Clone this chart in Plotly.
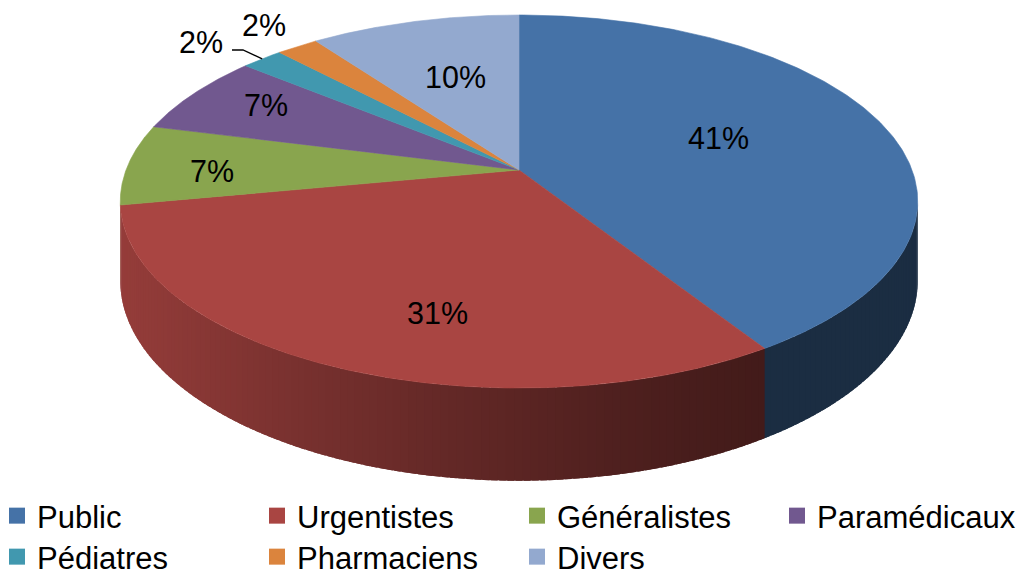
import numpy as np
import plotly.graph_objects as go

# ---------------- data ----------------
categories = ["Public", "Urgentistes", "Généralistes", "Paramédicaux",
              "Pédiatres", "Pharmaciens", "Divers"]
shares = [41, 31, 7, 7, 2, 2, 10]
colors = ["#4572A7", "#A94542", "#89A54E", "#71588F",
          "#4198AF", "#DB843D", "#93A9CF"]

# ---------------- geometry of the perspective pie ----------------
W, H = 1026, 574
CX, CY = 519, 170          # projected pie centre
A, B, K = 393, 181.2, -0.169   # horizontal / vertical radius, perspective
DEPTH = 77                 # thickness of the pie
FONT = "Arial, Liberation Sans, sans-serif"


def proj(theta_deg, r=1.0):
    t = np.radians(theta_deg)
    u = r * np.sin(t)
    v = -r * np.cos(t)
    w = 1 + K * v
    return CX + A * u / w, CY + B * v / w, w


def hex2rgb(h):
    h = h.lstrip("#")
    return [int(h[i:i + 2], 16) for i in (0, 2, 4)]


def shade(hexcol, f):
    r, g, b = hex2rgb(hexcol)
    return "rgb(%d,%d,%d)" % (r * f, g * f, b * f)


def side_factor(x):
    t = np.clip((x - 125) / 640.0, 0, 1)
    return 0.4 + 0.48 * (1 - t) ** 1.3


total = float(sum(shares))
bounds = np.concatenate([[0], np.cumsum(shares)]) / total * 360.0

# visible part of the side wall (between the two silhouette points)
vis_a = np.degrees(np.arccos(K))        # ~99.7
vis_b = 360 - vis_a

fig = go.Figure()

# ---- side walls (overlapping strips for a shading gradient) ----
for i, c in enumerate(colors):
    a0, a1 = max(bounds[i], vis_a), min(bounds[i + 1], vis_b)
    if a1 <= a0:
        continue
    edges = np.append(np.arange(a0, a1, 1.0), a1)
    for s in range(len(edges) - 1):
        hi = min(edges[s + 1] + 0.8, vis_b)
        th = np.linspace(edges[s], hi, 5)
        xt, yt, wt = proj(th)
        yb = yt + DEPTH / wt
        xs = np.concatenate([xt, xt[::-1]])
        ys = np.concatenate([yt, yb[::-1]])
        col = shade(c, side_factor(proj((edges[s] + edges[s + 1]) / 2)[0]))
        fig.add_trace(go.Scatter(x=xs, y=ys, mode="lines", fill="toself",
                                 fillcolor=col, line=dict(width=0),
                                 hoverinfo="skip", showlegend=False))

# ---- top faces ----
for i, c in enumerate(colors):
    th = np.linspace(bounds[i], bounds[i + 1], 200)
    xt, yt, _ = proj(th)
    xs = np.concatenate([[CX], xt, [CX]])
    ys = np.concatenate([[CY], yt, [CY]])
    fig.add_trace(go.Scatter(x=xs, y=ys, mode="lines", fill="toself",
                             fillcolor=c, line=dict(color=c, width=0.6),
                             hoverinfo="text", text=f"{categories[i]}: {shares[i]}%",
                             showlegend=False))

# ---- data labels ----
label_pos = [(718, 138), (437, 313), (212, 171), (266, 105),
             (201, 42), (264, 25), (455, 77)]
for i, (lx, ly) in enumerate(label_pos):
    fig.add_annotation(x=lx, y=ly, text=f"{shares[i]}%", showarrow=False,
                       font=dict(family=FONT, size=30.5, color="black"),
                       xanchor="center", yanchor="middle")

# leader line for the small "Pédiatres" slice
i_ped = categories.index("Pédiatres")
ex, ey, _ = proj((bounds[i_ped] + bounds[i_ped + 1]) / 2)
fig.add_trace(go.Scatter(x=[232, 243, ex], y=[50, 50, ey], mode="lines",
                         line=dict(color="black", width=1.3),
                         hoverinfo="skip", showlegend=False))

# ---- legend: 4 columns x 2 rows, one legend box per entry ----
legend_names = ["legend"] + [f"legend{j}" for j in range(2, len(categories) + 1)]
for j, (cat, c) in enumerate(zip(categories, colors)):
    fig.add_trace(go.Scatter(x=[None], y=[None], mode="markers", name=cat,
                             legend=legend_names[j],
                             marker=dict(symbol="square", size=17, color=c,
                                         line=dict(width=0))))

ROW_TOPS = [489, 530]
COL_STEP = 260
legend_common = dict(orientation="v", xanchor="left", yanchor="top",
                     font=dict(family=FONT, size=31, color="black"),
                     bgcolor="rgba(0,0,0,0)", borderwidth=0,
                     tracegroupgap=0, itemclick=False, itemdoubleclick=False)
layout_leg = {}
for j, name in enumerate(legend_names):
    row, col = divmod(j, 4)
    layout_leg[name] = dict(legend_common,
                            x=(-3 + COL_STEP * col) / W,
                            y=1 - ROW_TOPS[row] / H)

fig.update_layout(
    width=W, height=H,
    margin=dict(l=0, r=0, t=0, b=0, autoexpand=False),
    paper_bgcolor="white", plot_bgcolor="white",
    xaxis=dict(range=[0, W], visible=False, fixedrange=True),
    yaxis=dict(range=[H, 0], visible=False, fixedrange=True),
    showlegend=True,
    **layout_leg,
)

fig.write_html("out.html",
               config={"displayModeBar": False},
               post_script="document.body.style.margin='0';"
                           "document.body.style.overflow='hidden';")
